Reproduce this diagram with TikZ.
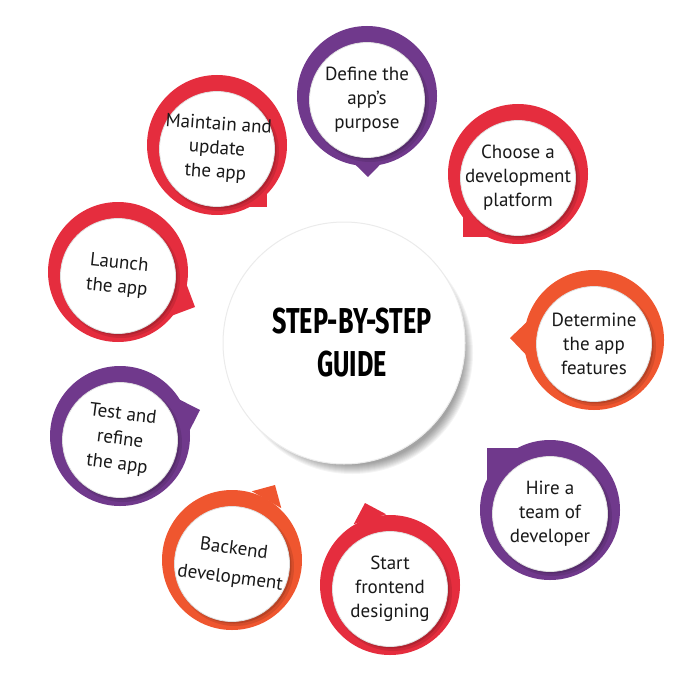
\documentclass[tikz,border=0pt]{standalone}
\usepackage{fontspec}
\setmainfont{PT Sans}
\newfontfamily\titlefont[FakeStretch=0.7]{Fira Sans}
\usetikzlibrary{calc}
\definecolor{cpurple}{RGB}{112,57,140}
\definecolor{cred}{RGB}{229,45,62}
\definecolor{corange}{RGB}{239,86,47}
\definecolor{ink}{RGB}{25,25,25}
\tikzset{
  ringdisc/.style={circle, inner sep=0pt, minimum size=140pt},
  face/.style={circle, inner sep=0pt, minimum size=115pt, fill=white, draw=black!12, line width=0.8pt},
  steptext/.style={align=center, text=ink, font=\fontsize{19}{24}\selectfont, inner sep=0pt},
  titletext/.style={align=center, text=black, font=\titlefont\bfseries\fontsize{36}{43}\selectfont, inner sep=0pt},
}
\newcommand\ringat[4]{\node[ringdisc, fill=#4] (#1-ring) at (#2,#3) {};}
\newcommand\tipat[4]{%
  \coordinate (#1-tip) at (#2,#3);
  \fill[#4] (#1-tip) -- ($(#1-tip)!24pt!45:(#1-ring.center)$) -- ($(#1-tip)!24pt!-45:(#1-ring.center)$) -- cycle;}
\newcommand\cornerat[4]{%
  \coordinate (#1-corner) at (#2,#3);
  \fill[#4] (#1-ring.center) rectangle (#1-corner);}
\newcommand\faceof[3]{%
  \coordinate (#1) at ($(#1-ring.center)+(0,-4)$);
  \fill[black,opacity=.10] ($(#1)+(3,-3)$) circle (59);
  \fill[black,opacity=.14] ($(#1)+(2,-2)$) circle (57.5);
  \node[face] (#1-face) at (#1) {};
  \node[steptext, rotate=#2] (#1-text) at (#1) {#3};}
\begin{document}
\begin{tikzpicture}[x=1pt,y=1pt]
\useasboundingbox (0,0) rectangle (700,-687);
% central disc with shadow
\foreach \r in {0,...,9} \fill[black,opacity=0.045] (352,-353) circle (112+\r);
\node[circle, fill=white, draw=black!8, line width=1pt, minimum size=242pt, inner sep=0pt] (hub) at (344,-343) {};
\node[titletext] (title) at (352,-342.5) {STEP-BY-STEP\\GUIDE};
% 1 Define
\ringat{d}{367}{-96}{cpurple}
\tipat{d}{368}{-177}{cpurple}
\faceof{d}{0}{Define the\\app's\\purpose}
% 2 Choose
\ringat{c}{518}{-174}{cred}
\cornerat{c}{463}{-237}{cred}
\faceof{c}{0}{Choose a\\development\\platform}
% 3 Determine
\ringat{f}{594}{-340}{corange}
\tipat{f}{510}{-338}{corange}
\faceof{f}{0}{Determine\\the app\\features}
% 4 Hire
\ringat{h}{550}{-510}{cpurple}
\cornerat{h}{487}{-448}{cpurple}
\faceof{h}{0}{Hire a\\team of\\developer}
% 5 Start frontend
\ringat{s}{390}{-585}{cred}
\tipat{s}{365}{-503}{cred}
\faceof{s}{0}{Start\\frontend\\designing}
% 6 Backend
\ringat{b}{232}{-560}{corange}
\tipat{b}{275}{-485}{corange}
\faceof{b}{-7.5}{Backend\\[5pt]development}
% 7 Test
\ringat{t}{120}{-436}{cpurple}
\tipat{t}{200}{-410}{cpurple}
\faceof{t}{-7}{Test and\\[1pt]refine\\[1pt]the app}
% 8 Launch
\ringat{l}{118}{-272}{cred}
\tipat{l}{195}{-307}{cred}
\faceof{l}{-6}{Launch\\the app}
% 9 Maintain
\ringat{m}{217}{-145}{cred}
\cornerat{m}{267}{-207}{cred}
\faceof{m}{-4}{Maintain and\\update\\the app}
\end{tikzpicture}
\end{document}
